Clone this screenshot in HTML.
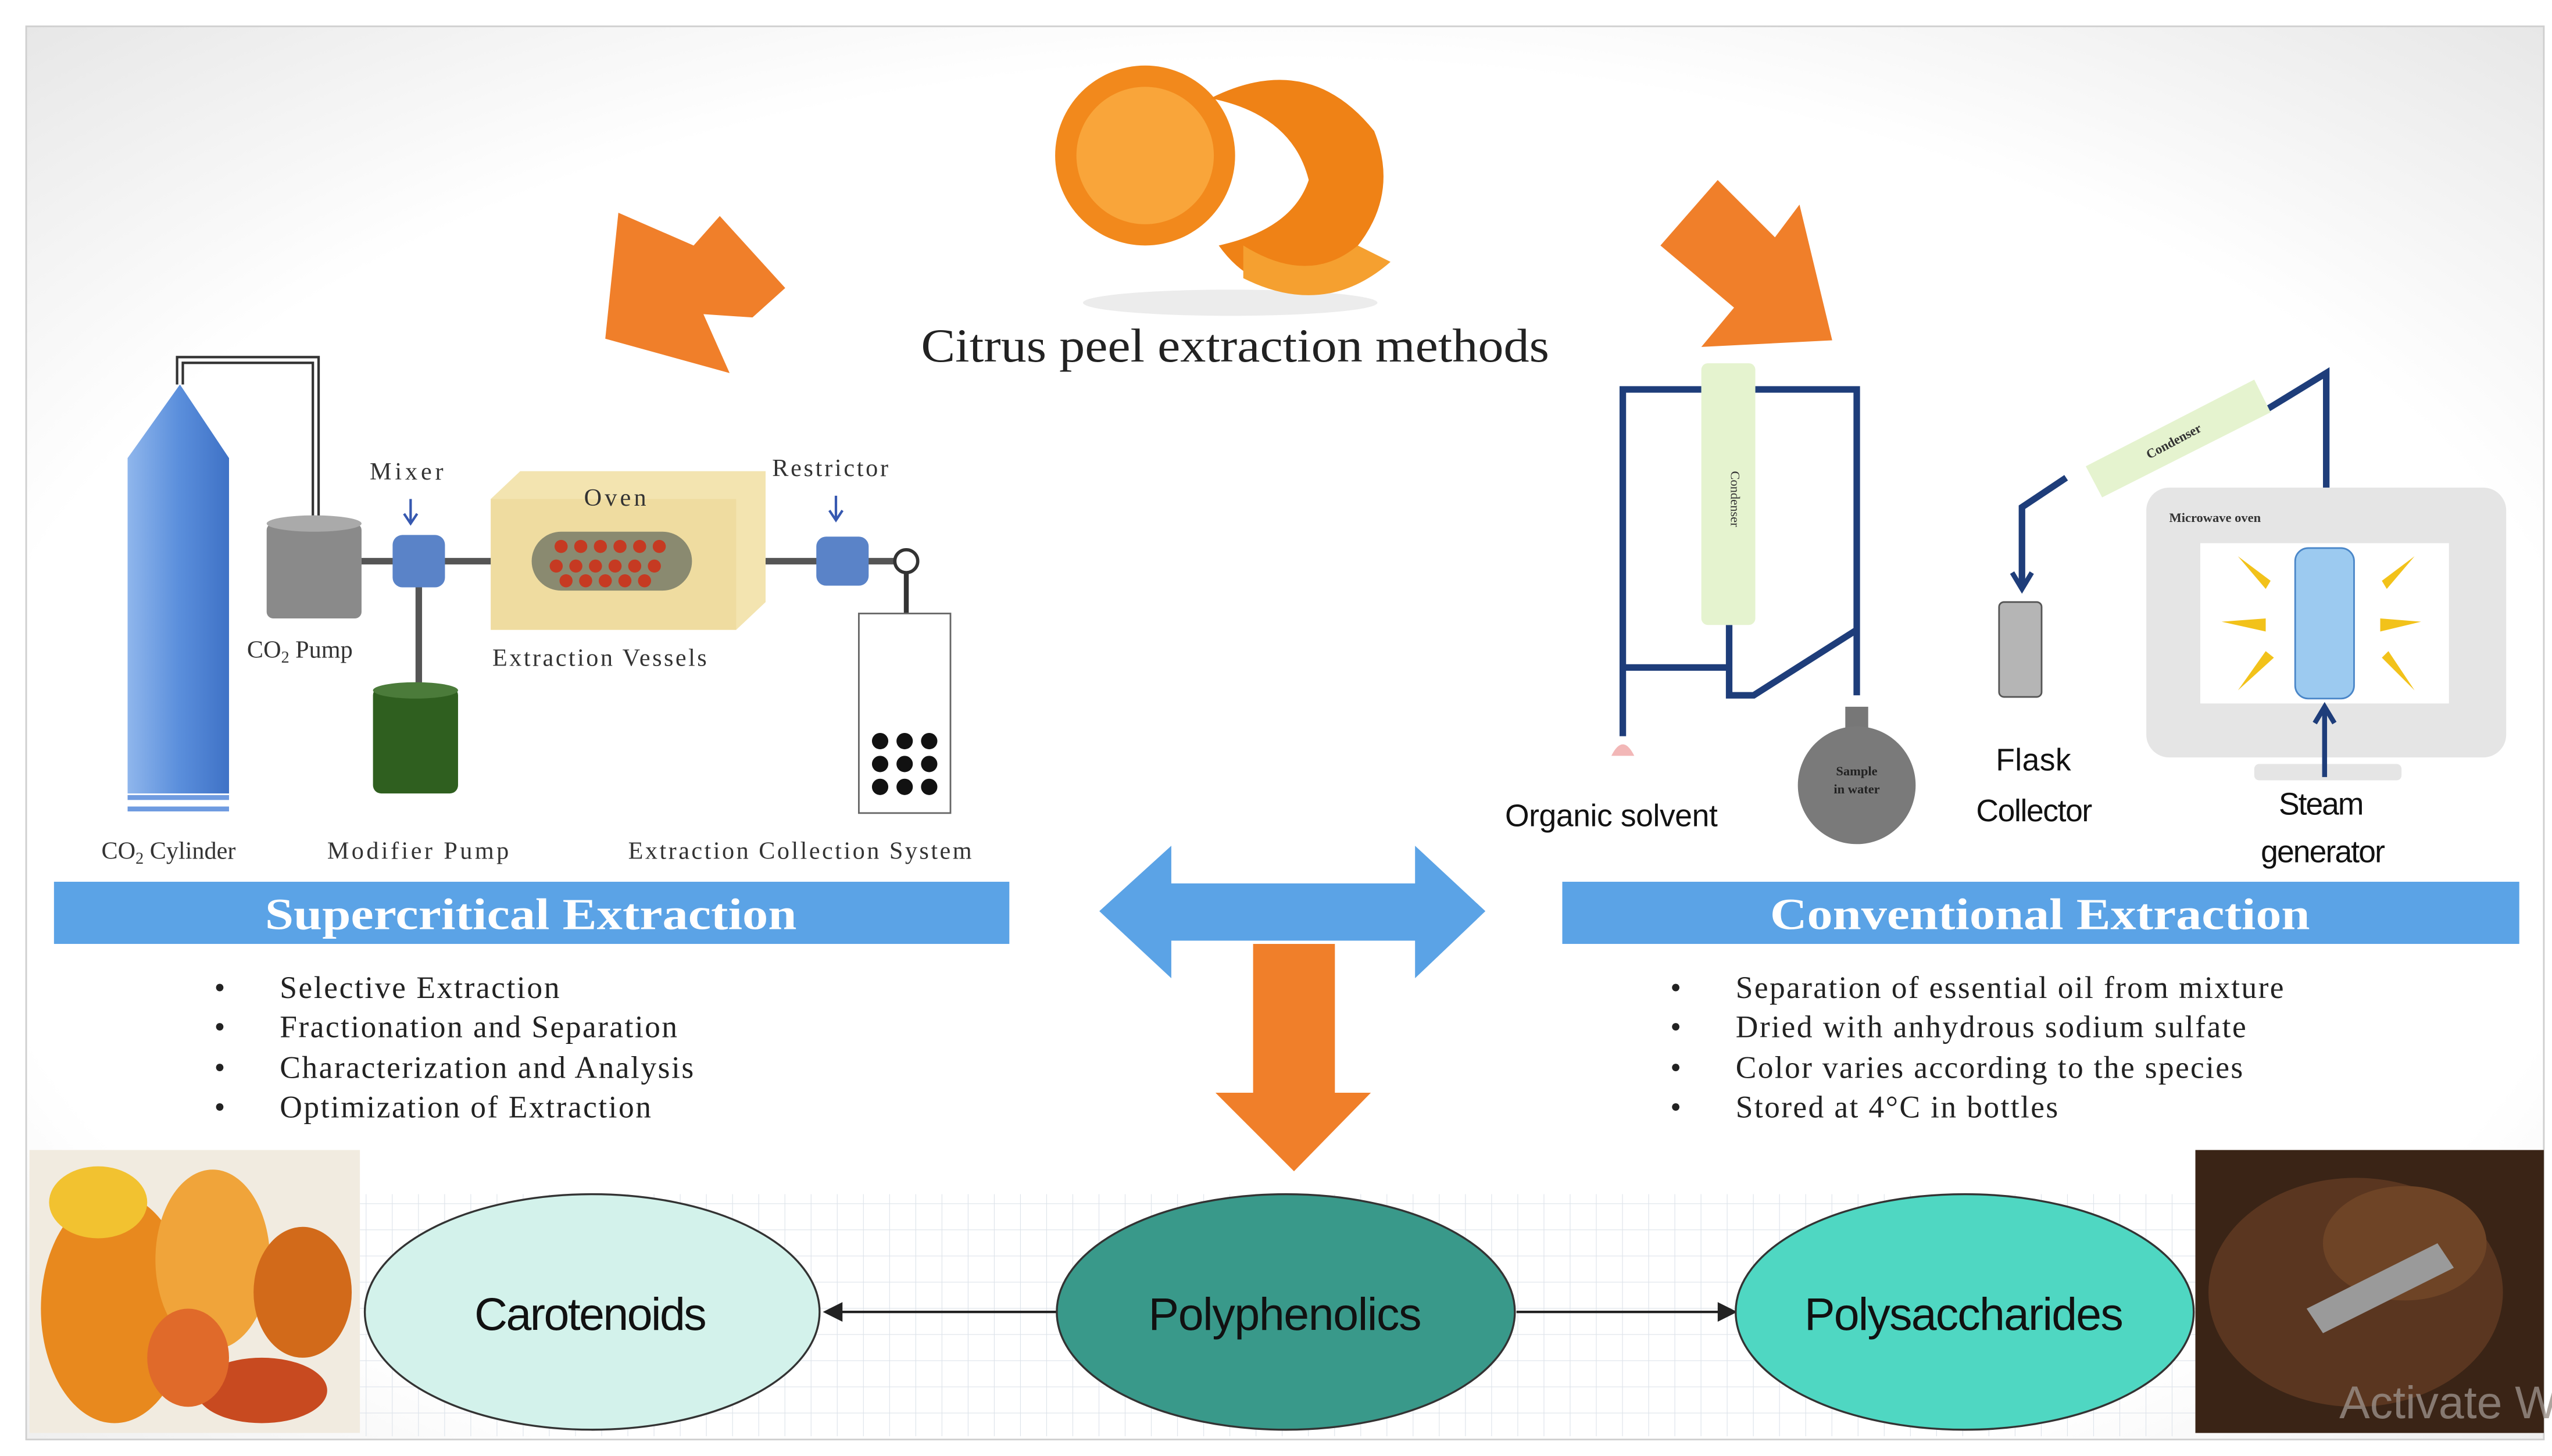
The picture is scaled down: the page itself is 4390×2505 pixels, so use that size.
<!DOCTYPE html>
<html><head><meta charset="utf-8"><style>
html,body{margin:0;padding:0;background:#fff;width:4390px;height:2505px;overflow:hidden}
svg{display:block}
.s{font-family:"Liberation Serif",serif}
.a{font-family:"Liberation Sans",sans-serif}
</style></head><body>
<svg width="4390" height="2505" viewBox="0 0 1560 890" xmlns="http://www.w3.org/2000/svg">
<defs>
<radialGradient id="bg" cx="0.5" cy="0.55" r="0.75"><stop offset="0.7" stop-color="#fff"/><stop offset="1" stop-color="#e6e6e6"/></radialGradient>
<linearGradient id="cyl" x1="0" x2="1"><stop offset="0" stop-color="#8fb6ec"/><stop offset="0.5" stop-color="#5b8fdc"/><stop offset="1" stop-color="#3f72c6"/></linearGradient>
<pattern id="grid" width="16" height="16" patternUnits="userSpaceOnUse"><path d="M16 0V16H0" fill="none" stroke="#dde3ea" stroke-width="0.8"/></pattern>
</defs>
<rect x="0" y="0" width="1560" height="890" fill="#fff"/>
<rect x="16" y="16" width="1539" height="864" fill="url(#bg)" stroke="#cfcfcf"/>
<rect x="220" y="730" width="1122" height="148" fill="url(#grid)"/>
<!-- orange -->
<ellipse cx="752" cy="185" rx="90" ry="8" fill="#ececec"/>
<circle cx="700" cy="95" r="55" fill="#f2891c"/>
<circle cx="700" cy="95" r="42" fill="#f9a53a"/>
<path d="M740 60 Q800 30 840 80 Q860 130 810 170 Q770 185 745 150 Q790 140 800 110 Q790 70 740 60Z" fill="#ef8216"/>
<path d="M760 150 Q800 175 830 150 L850 160 Q810 195 760 170Z" fill="#f5a030"/>
<text x="563" y="221" textLength="384" lengthAdjust="spacingAndGlyphs" class="s" font-size="29" fill="#222">Citrus peel extraction methods</text>
<!-- orange arrows -->
<polygon points="480,176 440,132 424,150 378,130 370,207 446,228 430,192 460,194" fill="#f07f2a"/>
<polygon points="1015,150 1050,110 1085,145 1100,125 1120,208 1040,212 1060,188" fill="#f07f2a"/>
<!-- left apparatus -->
<path d="M110 235 V220 H193 V320" fill="none" stroke="#333" stroke-width="5"/>
<path d="M110 235 V220 H193 V320" fill="none" stroke="#fff" stroke-width="2"/>
<polygon points="78,280 110,235 140,280 140,485 78,485" fill="url(#cyl)"/>
<rect x="78" y="486" width="62" height="3" fill="#6f9be0"/><rect x="78" y="493" width="62" height="3" fill="#6f9be0"/>
<rect x="163" y="320" width="58" height="58" rx="4" fill="#8a8a8a"/><ellipse cx="192" cy="320" rx="29" ry="5" fill="#aaa"/>
<line x1="221" y1="343" x2="555" y2="343" stroke="#555" stroke-width="4"/>
<line x1="256" y1="343" x2="256" y2="425" stroke="#555" stroke-width="4"/>
<rect x="228" y="420" width="52" height="65" rx="5" fill="#2f5f1f"/><ellipse cx="254" cy="422" rx="26" ry="5" fill="#4b7b3a"/>
<rect x="240" y="327" width="32" height="32" rx="6" fill="#5a83c8"/>
<polygon points="300,305 318,288 468,288 468,368 450,385 300,385" fill="#f3e4b0"/>
<rect x="300" y="305" width="150" height="80" fill="#efdca0"/>
<rect x="325" y="325" width="98" height="36" rx="18" fill="#8a8a70"/>
<g fill="#c63a22"><circle cx="343" cy="334" r="4"/><circle cx="355" cy="334" r="4"/><circle cx="367" cy="334" r="4"/><circle cx="379" cy="334" r="4"/><circle cx="391" cy="334" r="4"/><circle cx="403" cy="334" r="4"/><circle cx="340" cy="346" r="4"/><circle cx="352" cy="346" r="4"/><circle cx="364" cy="346" r="4"/><circle cx="376" cy="346" r="4"/><circle cx="388" cy="346" r="4"/><circle cx="400" cy="346" r="4"/><circle cx="346" cy="355" r="4"/><circle cx="358" cy="355" r="4"/><circle cx="370" cy="355" r="4"/><circle cx="382" cy="355" r="4"/><circle cx="394" cy="355" r="4"/></g>
<rect x="499" y="328" width="32" height="30" rx="6" fill="#5a83c8"/>
<circle cx="554" cy="343" r="7" fill="#fff" stroke="#333" stroke-width="2"/>
<line x1="554" y1="350" x2="554" y2="425" stroke="#333" stroke-width="3"/>
<rect x="525" y="375" width="56" height="122" fill="#fff" stroke="#666"/>
<g fill="#111"><circle cx="538" cy="453" r="5"/><circle cx="553" cy="453" r="5"/><circle cx="568" cy="453" r="5"/><circle cx="538" cy="467" r="5"/><circle cx="553" cy="467" r="5"/><circle cx="568" cy="467" r="5"/><circle cx="538" cy="481" r="5"/><circle cx="553" cy="481" r="5"/><circle cx="568" cy="481" r="5"/></g>
<path d="M251 305 V320 M247 314 L251 320 L255 314 M511 303 V318 M507 312 L511 318 L515 312" stroke="#3658b0" stroke-width="1.5" fill="none"/>
<g class="s" font-size="15" fill="#333" lengthAdjust="spacingAndGlyphs">
<text x="226" y="293" textLength="45">Mixer</text><text x="357" y="309" textLength="38">Oven</text><text x="472" y="291" textLength="71">Restrictor</text>
<text x="151" y="402">CO<tspan font-size="10" dy="3">2</tspan><tspan dy="-3"> Pump</tspan></text>
<text x="301" y="407" textLength="131">Extraction Vessels</text>
<text x="62" y="525">CO<tspan font-size="10" dy="3">2</tspan><tspan dy="-3"> Cylinder</tspan></text>
<text x="200" y="525" textLength="111">Modifier Pump</text><text x="384" y="525" textLength="210">Extraction Collection System</text>
</g>
<!-- right apparatus -->
<path d="M992 450 V238 H1040 M1073 238 H1135 V425 M992 408 H1057 V382 M1057 408 V425 H1072 L1135 385" fill="none" stroke="#1e3d7a" stroke-width="4"/>
<rect x="1040" y="222" width="33" height="160" rx="4" fill="#e5f3cf"/>
<text transform="translate(1058,305) rotate(90)" text-anchor="middle" class="s" font-size="8" fill="#333">Condenser</text>
<path d="M985 462 Q992 448 999 462Z" fill="#f2b7b7"/>
<rect x="1128" y="432" width="14" height="20" fill="#777"/>
<ellipse cx="1135" cy="480" rx="36" ry="36" fill="#7a7a7a"/>
<text x="1135" y="474" text-anchor="middle" class="s" font-size="8" font-weight="bold" fill="#222">Sample</text>
<text x="1135" y="485" text-anchor="middle" class="s" font-size="8" font-weight="bold" fill="#222">in water</text>
<path d="M1236 358 V310 L1263 292 M1386 250 L1422 228 V300" fill="none" stroke="#1e3d7a" stroke-width="4"/>
<path d="M1230 350 L1236 360 L1242 350" fill="none" stroke="#1e3d7a" stroke-width="3"/>
<polygon points="1275,285 1378,232 1388,252 1285,304" fill="#e5f3cf"/>
<text transform="translate(1330,272) rotate(-28)" text-anchor="middle" class="s" font-size="8" font-weight="bold" fill="#333">Condenser</text>
<rect x="1222" y="368" width="26" height="58" rx="3" fill="#b5b5b5" stroke="#555"/>
<rect x="1312" y="298" width="220" height="165" rx="14" fill="#e5e5e5"/>
<rect x="1345" y="332" width="152" height="98" fill="#fff"/>
<rect x="1378" y="467" width="90" height="10" rx="3" fill="#e5e5e5"/>
<text x="1326" y="319" class="s" font-size="8" font-weight="bold" fill="#333">Microwave oven</text>
<rect x="1403" y="335" width="36" height="92" rx="8" fill="#9ccaf0" stroke="#4a86c8"/>
<g fill="#f2c21a"><polygon points="1368,340 1388,355 1385,360"/><polygon points="1476,340 1456,355 1459,360"/><polygon points="1358,380 1385,378 1385,386"/><polygon points="1480,380 1455,378 1455,386"/><polygon points="1368,422 1390,402 1385,398"/><polygon points="1476,422 1456,402 1460,398"/></g>
<path d="M1421 475 V432 M1415 442 L1421 432 L1427 442" fill="none" stroke="#1e3d7a" stroke-width="3"/>
<g class="a" font-size="19" fill="#111" lengthAdjust="spacingAndGlyphs">
<text x="920" y="505" textLength="130">Organic solvent</text><text x="1220" y="471" textLength="46">Flask</text><text x="1208" y="502" textLength="71">Collector</text>
<text x="1393" y="498" textLength="52">Steam</text><text x="1382" y="527" textLength="76">generator</text></g>
<!-- bars -->
<rect x="33" y="539" width="584" height="38" fill="#5ba3e6"/>
<text x="162" y="568" textLength="325" lengthAdjust="spacingAndGlyphs" class="s" font-size="27" font-weight="bold" fill="#fff">Supercritical Extraction</text>
<rect x="955" y="539" width="585" height="38" fill="#5ba3e6"/>
<text x="1082" y="568" textLength="330" lengthAdjust="spacingAndGlyphs" class="s" font-size="27" font-weight="bold" fill="#fff">Conventional Extraction</text>
<g class="s" font-size="19" fill="#222" lengthAdjust="spacingAndGlyphs">
<text x="131" y="610">•</text><text x="171" y="610" textLength="171">Selective Extraction</text>
<text x="131" y="634">•</text><text x="171" y="634" textLength="243">Fractionation and Separation</text>
<text x="131" y="659">•</text><text x="171" y="659" textLength="253">Characterization and Analysis</text>
<text x="131" y="683">•</text><text x="171" y="683" textLength="227">Optimization of Extraction</text>
<text x="1021" y="610">•</text><text x="1061" y="610" textLength="335">Separation of essential oil from mixture</text>
<text x="1021" y="634">•</text><text x="1061" y="634" textLength="312">Dried with anhydrous sodium sulfate</text>
<text x="1021" y="659">•</text><text x="1061" y="659" textLength="310">Color varies according to the species</text>
<text x="1021" y="683">•</text><text x="1061" y="683" textLength="197">Stored at 4°C in bottles</text></g>
<!-- center arrows -->
<polygon points="672,557 716,517 716,540 865,540 865,517 908,557 865,598 865,575 716,575 716,598" fill="#5ba3e6"/>
<polygon points="766,577 816,577 816,668 838,668 791,716 743,668 766,668" fill="#f07f2a"/>
<!-- images -->
<rect x="18" y="703" width="202" height="173" fill="#f1ebe0"/>
<ellipse cx="70" cy="800" rx="45" ry="70" fill="#e8891e"/><ellipse cx="130" cy="770" rx="35" ry="55" fill="#f0a43a"/><ellipse cx="185" cy="790" rx="30" ry="40" fill="#d26a1a"/><ellipse cx="60" cy="735" rx="30" ry="22" fill="#f2c230"/><ellipse cx="160" cy="850" rx="40" ry="20" fill="#c84a20"/><ellipse cx="115" cy="830" rx="25" ry="30" fill="#e06a2a"/>
<rect x="1342" y="703" width="213" height="173" fill="#3a2416"/>
<ellipse cx="1440" cy="790" rx="90" ry="70" fill="#5a3620"/><ellipse cx="1470" cy="760" rx="50" ry="35" fill="#6e4426"/>
<path d="M1410 800 L1490 760 L1500 775 L1420 815Z" fill="#9a9a9a"/>
<text x="1430" y="867" class="a" font-size="28" fill="#9a8f88" opacity="0.8">Activate W</text>
<!-- ellipses -->
<line x1="646" y1="802" x2="508" y2="802" stroke="#222" stroke-width="1.5"/><polygon points="503,802 515,796 515,808" fill="#222"/>
<line x1="927" y1="802" x2="1055" y2="802" stroke="#222" stroke-width="1.5"/><polygon points="1062,802 1050,796 1050,808" fill="#222"/>
<ellipse cx="362" cy="802" rx="139" ry="72" fill="#d3f2eb" stroke="#333" stroke-width="1.2"/>
<ellipse cx="786" cy="802" rx="140" ry="72" fill="#39998a" stroke="#333" stroke-width="1.2"/>
<ellipse cx="1201" cy="802" rx="140" ry="72" fill="#4fd7c2" stroke="#333" stroke-width="1.2"/>
<g class="a" font-size="28" fill="#111" lengthAdjust="spacingAndGlyphs">
<text x="290" y="813" textLength="142">Carotenoids</text><text x="702" y="813" textLength="167">Polyphenolics</text><text x="1103" y="813" textLength="195">Polysaccharides</text></g>
</svg>
</body></html>
